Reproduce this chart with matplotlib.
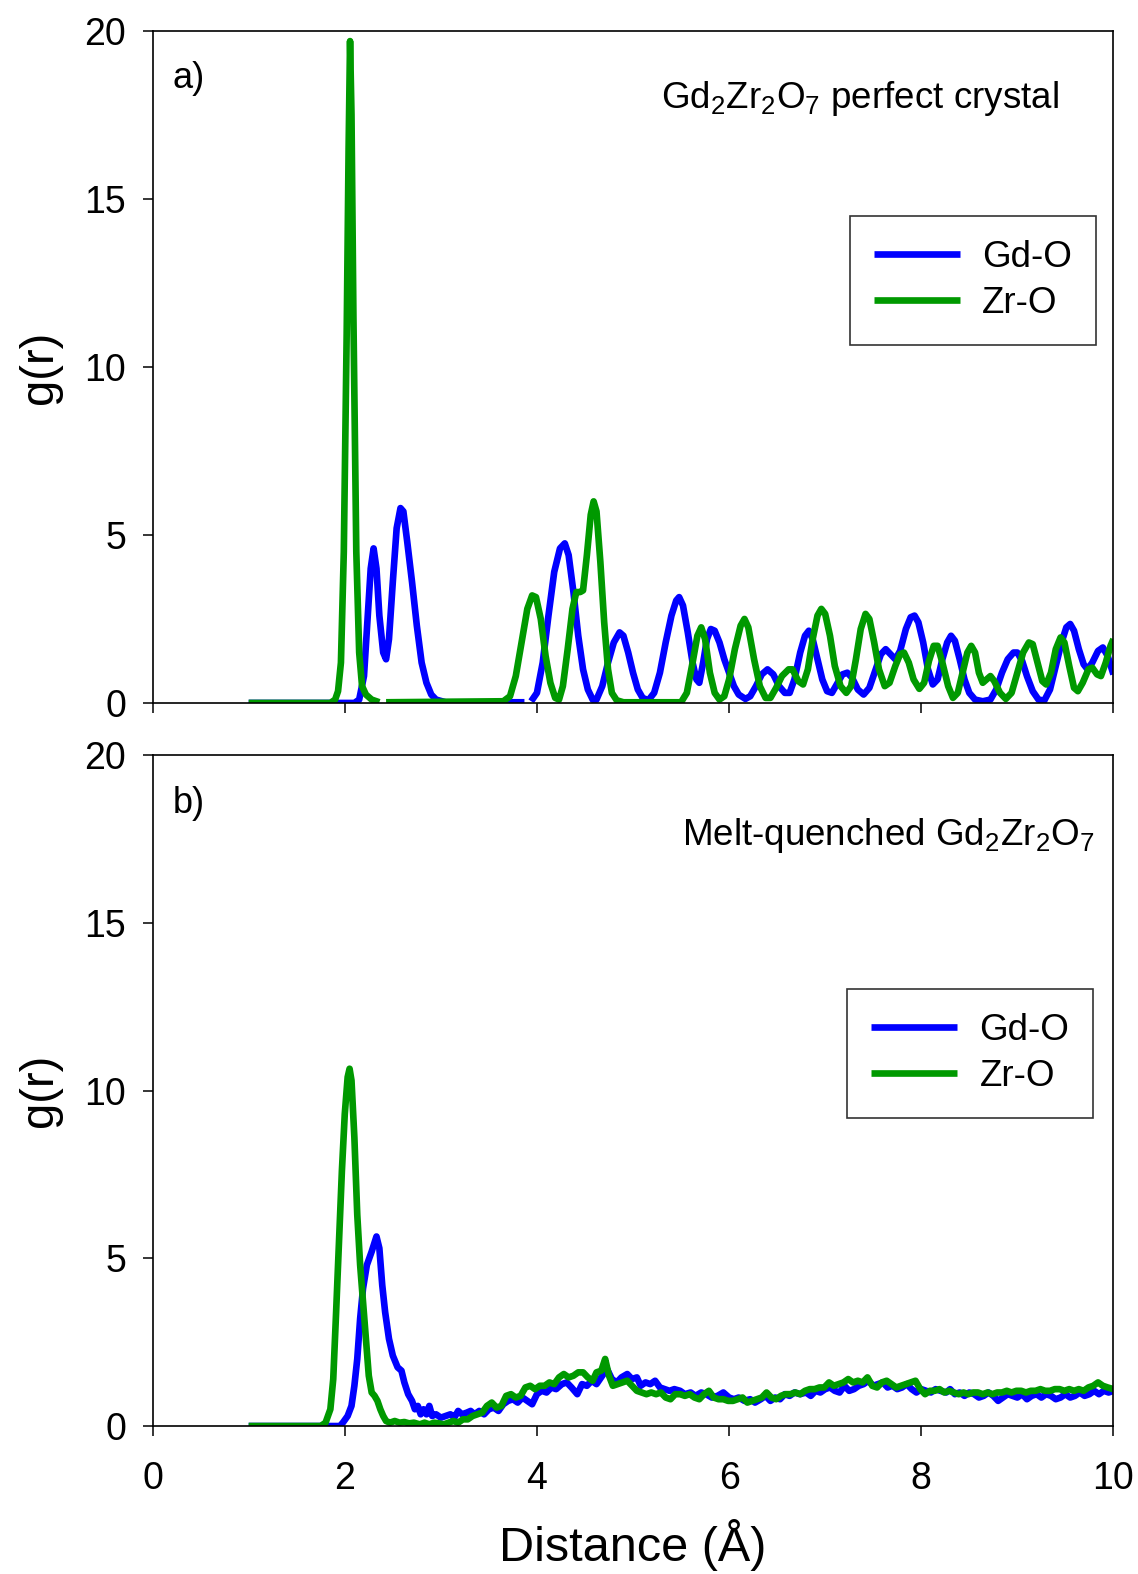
import numpy as np
import matplotlib
matplotlib.use('Agg')
import matplotlib.pyplot as plt

plt.rcParams['font.family'] = ['Liberation Sans', 'DejaVu Sans']
plt.rcParams['mathtext.fontset'] = 'custom'
plt.rcParams['mathtext.rm'] = 'Liberation Sans'
plt.rcParams['mathtext.it'] = 'Liberation Sans'
plt.rcParams['mathtext.bf'] = 'Liberation Sans'

nan = float('nan')

# ---- a) perfect crystal ----
crys_gd_r = [1.00, 2.10, 2.15, 2.20, 2.24, 2.27, 2.30, 2.33, 2.36, 2.40, 2.43, 2.46, 2.50, 2.54, 2.58, 2.61,
             2.65, 2.70, 2.75, 2.80, 2.85, 2.90, 2.95, 3.05, 3.87, 3.90, 3.94, 4.00, 4.06, 4.12, 4.18, 4.24,
             4.29, 4.33, 4.38, 4.43, 4.48, 4.53, 4.58, 4.62, 4.68, 4.74, 4.80, 4.86, 4.90, 4.95, 5.00, 5.05,
             5.10, 5.16, 5.22, 5.28, 5.34, 5.40, 5.45, 5.48, 5.52, 5.57, 5.62, 5.66, 5.69, 5.73, 5.77, 5.81,
             5.85, 5.90, 5.95, 6.00, 6.05, 6.10, 6.17, 6.22, 6.28, 6.34, 6.40, 6.46, 6.52, 6.58, 6.63, 6.68,
             6.74, 6.79, 6.83, 6.87, 6.92, 6.97, 7.02, 7.07, 7.12, 7.18, 7.23, 7.28, 7.34, 7.40, 7.46, 7.52,
             7.58, 7.63, 7.68, 7.73, 7.78, 7.84, 7.89, 7.93, 7.97, 8.02, 8.07, 8.12, 8.17, 8.22, 8.27, 8.31,
             8.35, 8.40, 8.45, 8.50, 8.56, 8.64, 8.72, 8.78, 8.84, 8.90, 8.96, 9.00, 9.05, 9.10, 9.16, 9.22,
             9.28, 9.34, 9.40, 9.46, 9.51, 9.55, 9.59, 9.64, 9.69, 9.73, 9.78, 9.84, 9.89, 9.94, 10.00]
crys_gd_g = [0.0, 0.0, 0.1, 0.8, 2.6, 4.0, 4.6, 4.0, 2.6, 1.5, 1.3, 1.9, 3.6, 5.2, 5.8, 5.7,
             4.8, 3.6, 2.3, 1.2, 0.6, 0.25, 0.1, 0.02, 0.02, nan, 0.05, 0.3, 1.2, 2.6, 3.9, 4.6,
             4.75, 4.4, 3.3, 2.0, 1.0, 0.4, 0.1, 0.1, 0.5, 1.2, 1.8, 2.1, 2.0, 1.5, 0.9, 0.4,
             0.15, 0.08, 0.3, 0.9, 1.8, 2.6, 3.05, 3.15, 2.9, 2.1, 1.2, 0.7, 0.6, 1.2, 1.9, 2.2,
             2.15, 1.8, 1.3, 0.9, 0.5, 0.25, 0.12, 0.2, 0.5, 0.85, 1.0, 0.85, 0.5, 0.3, 0.3, 0.7,
             1.5, 2.0, 2.15, 1.9, 1.3, 0.7, 0.35, 0.3, 0.55, 0.85, 0.9, 0.75, 0.4, 0.25, 0.45, 0.95,
             1.45, 1.6, 1.45, 1.3, 1.55, 2.2, 2.55, 2.6, 2.4, 1.8, 1.0, 0.55, 0.7, 1.3, 1.8, 2.0,
             1.85, 1.3, 0.7, 0.3, 0.1, 0.05, 0.1, 0.4, 0.9, 1.3, 1.5, 1.5, 1.25, 0.8, 0.35, 0.1,
             0.07, 0.4, 1.1, 1.8, 2.25, 2.35, 2.15, 1.6, 1.15, 1.0, 1.2, 1.55, 1.65, 1.4, 0.85]

crys_zr_r = [1.00, 1.85, 1.90, 1.93, 1.96, 1.99, 2.02, 2.04, 2.055, 2.07, 2.09, 2.12, 2.15, 2.18, 2.22, 2.28,
             2.36, 2.40, 2.43, 3.65, 3.72, 3.78, 3.84, 3.90, 3.95, 3.99, 4.04, 4.09, 4.14, 4.19, 4.23, 4.27,
             4.32, 4.37, 4.41, 4.45, 4.48, 4.52, 4.56, 4.59, 4.62, 4.66, 4.70, 4.74, 4.78, 4.83, 4.90, 5.50,
             5.56, 5.62, 5.67, 5.71, 5.75, 5.80, 5.85, 5.90, 5.95, 6.00, 6.06, 6.12, 6.16, 6.20, 6.26, 6.32,
             6.38, 6.43, 6.49, 6.55, 6.62, 6.66, 6.72, 6.77, 6.82, 6.87, 6.92, 6.96, 7.00, 7.05, 7.10, 7.16,
             7.22, 7.27, 7.32, 7.37, 7.42, 7.46, 7.51, 7.56, 7.62, 7.67, 7.73, 7.78, 7.82, 7.87, 7.92, 7.98,
             8.03, 8.08, 8.13, 8.17, 8.22, 8.28, 8.33, 8.38, 8.43, 8.48, 8.52, 8.56, 8.60, 8.64, 8.68, 8.72,
             8.76, 8.82, 8.88, 8.94, 9.00, 9.06, 9.12, 9.16, 9.21, 9.26, 9.30, 9.35, 9.40, 9.45, 9.49, 9.54,
             9.59, 9.63, 9.68, 9.74, 9.78, 9.83, 9.87, 9.92, 9.97, 10.00]
crys_zr_g = [0.0, 0.0, 0.1, 0.35, 1.2, 4.5, 11.0, 16.5, 19.7, 17.5, 11.5, 4.5, 1.5, 0.5, 0.25, 0.1,
             0.02, nan, 0.02, 0.05, 0.2, 0.8, 1.8, 2.8, 3.2, 3.15, 2.5, 1.4, 0.6, 0.15, 0.1, 0.5,
             1.6, 2.8, 3.3, 3.3, 3.35, 4.4, 5.6, 6.0, 5.7, 4.2, 2.4, 1.0, 0.3, 0.08, 0.02, 0.02,
             0.3, 1.2, 2.0, 2.25, 1.9, 0.9, 0.3, 0.1, 0.2, 0.7, 1.6, 2.3, 2.5, 2.25, 1.3, 0.5,
             0.15, 0.15, 0.45, 0.8, 1.0, 1.0, 0.65, 0.55, 1.0, 1.9, 2.6, 2.8, 2.65, 2.0, 1.1, 0.5,
             0.3, 0.5, 1.3, 2.2, 2.65, 2.5, 1.8, 1.0, 0.5, 0.6, 1.1, 1.45, 1.5, 1.2, 0.7, 0.42,
             0.6, 1.25, 1.7, 1.7, 1.2, 0.5, 0.15, 0.3, 0.9, 1.5, 1.7, 1.5, 0.9, 0.6, 0.7, 0.8,
             0.65, 0.3, 0.12, 0.3, 0.9, 1.5, 1.8, 1.75, 1.2, 0.65, 0.55, 0.9, 1.6, 1.95, 1.8, 1.1,
             0.45, 0.35, 0.6, 1.0, 1.05, 0.85, 0.8, 1.2, 1.7, 1.9]

# ---- b) melt-quenched ----
melt_gd_r = [1.00, 1.95, 1.98, 2.03, 2.07, 2.10, 2.13, 2.16, 2.19, 2.23, 2.28, 2.33, 2.36, 2.39, 2.42, 2.46,
             2.50, 2.55, 2.59, 2.62, 2.66, 2.70, 2.73, 2.76, 2.79, 2.82, 2.85, 2.88, 2.91, 2.95, 3.00, 3.05,
             3.10, 3.14, 3.18, 3.22, 3.27, 3.31, 3.35, 3.40, 3.45, 3.50, 3.55, 3.60, 3.65, 3.70, 3.75, 3.80,
             3.85, 3.90, 3.95, 4.00, 4.05, 4.10, 4.15, 4.20, 4.26, 4.31, 4.36, 4.42, 4.47, 4.52, 4.57, 4.62,
             4.68, 4.73, 4.78, 4.83, 4.88, 4.94, 4.99, 5.04, 5.08, 5.13, 5.18, 5.23, 5.28, 5.33, 5.38, 5.43,
             5.49, 5.54, 5.60, 5.65, 5.71, 5.76, 5.82, 5.88, 5.94, 6.00, 6.05, 6.10, 6.16, 6.22, 6.27, 6.33,
             6.38, 6.43, 6.48, 6.53, 6.58, 6.63, 6.68, 6.74, 6.80, 6.85, 6.90, 6.95, 7.00, 7.05, 7.10, 7.15,
             7.20, 7.25, 7.30, 7.35, 7.40, 7.45, 7.50, 7.55, 7.60, 7.65, 7.70, 7.75, 7.80, 7.85, 7.90, 7.95,
             8.00, 8.05, 8.10, 8.15, 8.20, 8.26, 8.30, 8.35, 8.40, 8.45, 8.50, 8.55, 8.60, 8.65, 8.70, 8.75,
             8.80, 8.85, 8.90, 8.95, 9.00, 9.05, 9.10, 9.15, 9.20, 9.25, 9.30, 9.35, 9.40, 9.45, 9.50, 9.55,
             9.60, 9.65, 9.70, 9.75, 9.80, 9.85, 9.90, 9.95, 10.00]
melt_gd_g = [0.0, 0.0, 0.1, 0.3, 0.6, 1.2, 2.0, 3.2, 4.1, 4.8, 5.2, 5.65, 5.3, 4.2, 3.4, 2.6,
             2.1, 1.75, 1.65, 1.3, 0.95, 0.75, 0.5, 0.6, 0.35, 0.5, 0.35, 0.6, 0.3, 0.35, 0.25, 0.3,
             0.35, 0.25, 0.45, 0.35, 0.4, 0.45, 0.35, 0.45, 0.35, 0.5, 0.55, 0.45, 0.65, 0.75, 0.8, 0.7,
             0.85, 0.75, 0.65, 0.95, 1.05, 1.0, 1.15, 1.1, 1.25, 1.3, 1.15, 0.95, 1.25, 1.2, 1.35, 1.25,
             1.5, 1.7, 1.4, 1.3, 1.45, 1.55, 1.4, 1.45, 1.2, 1.3, 1.25, 1.35, 1.15, 1.1, 1.05, 1.1,
             1.05, 0.95, 1.0, 0.9, 1.0, 0.95, 0.85, 0.9, 1.0, 0.85, 0.8, 0.85, 0.75, 0.8, 0.7, 0.8,
             0.9, 0.75, 0.85, 0.8, 0.95, 0.9, 1.0, 0.95, 1.0, 0.9, 1.05, 1.0, 1.1, 1.15, 1.05, 1.0,
             1.2, 1.05, 1.1, 1.2, 1.25, 1.35, 1.2, 1.25, 1.3, 1.15, 1.2, 1.1, 1.15, 1.25, 1.1, 1.0,
             1.1, 1.05, 1.0, 1.1, 1.05, 1.0, 1.1, 0.95, 1.0, 0.9, 1.0, 0.95, 0.85, 0.9, 1.0, 0.9,
             0.75, 0.85, 0.95, 0.9, 0.85, 0.95, 0.8, 0.9, 0.95, 0.85, 0.95, 0.9, 0.8, 0.85, 0.95, 0.85,
             0.9, 1.0, 0.9, 0.95, 1.05, 0.95, 1.05, 1.0, 1.05]

melt_zr_r = [1.00, 1.75, 1.80, 1.85, 1.88, 1.91, 1.94, 1.97, 2.00, 2.03, 2.05, 2.07, 2.10, 2.13, 2.16, 2.19,
             2.22, 2.25, 2.28, 2.31, 2.34, 2.37, 2.40, 2.43, 2.47, 2.52, 2.57, 2.62, 2.67, 2.72, 2.78, 2.83,
             2.88, 2.93, 2.98, 3.03, 3.08, 3.13, 3.18, 3.23, 3.28, 3.33, 3.38, 3.43, 3.48, 3.53, 3.58, 3.63,
             3.68, 3.73, 3.78, 3.83, 3.88, 3.93, 3.98, 4.03, 4.08, 4.13, 4.18, 4.23, 4.28, 4.33, 4.38, 4.43,
             4.48, 4.53, 4.58, 4.62, 4.67, 4.71, 4.75, 4.79, 4.84, 4.89, 4.94, 4.99, 5.04, 5.09, 5.14, 5.19,
             5.24, 5.29, 5.34, 5.39, 5.44, 5.49, 5.54, 5.59, 5.64, 5.69, 5.74, 5.79, 5.84, 5.89, 5.94, 5.99,
             6.04, 6.09, 6.14, 6.19, 6.24, 6.29, 6.34, 6.39, 6.44, 6.49, 6.54, 6.59, 6.64, 6.69, 6.74, 6.79,
             6.84, 6.89, 6.94, 6.99, 7.04, 7.09, 7.14, 7.19, 7.24, 7.29, 7.34, 7.39, 7.44, 7.49, 7.54, 7.59,
             7.64, 7.69, 7.74, 7.79, 7.84, 7.89, 7.94, 7.99, 8.04, 8.09, 8.14, 8.19, 8.24, 8.29, 8.34, 8.39,
             8.44, 8.49, 8.54, 8.59, 8.64, 8.69, 8.74, 8.79, 8.84, 8.89, 8.94, 8.99, 9.04, 9.09, 9.14, 9.19,
             9.24, 9.29, 9.34, 9.39, 9.44, 9.49, 9.54, 9.59, 9.64, 9.69, 9.74, 9.79, 9.84, 9.89, 9.94, 10.00]
melt_zr_g = [0.0, 0.0, 0.1, 0.5, 1.4, 3.4, 5.5, 7.6, 9.3, 10.4, 10.65, 10.3, 8.6, 6.3, 4.8, 3.7,
             2.6, 1.5, 1.0, 0.9, 0.75, 0.5, 0.3, 0.15, 0.1, 0.15, 0.1, 0.12, 0.08, 0.1, 0.05, 0.1,
             0.05, 0.1, 0.08, 0.05, 0.1, 0.15, 0.1, 0.2, 0.2, 0.3, 0.35, 0.4, 0.6, 0.7, 0.55, 0.6,
             0.9, 0.95, 0.85, 0.9, 1.15, 1.2, 1.1, 1.2, 1.2, 1.3, 1.25, 1.45, 1.55, 1.45, 1.5, 1.6,
             1.6, 1.45, 1.35, 1.6, 1.65, 2.0, 1.5, 1.2, 1.25, 1.3, 1.35, 1.2, 1.05, 1.0, 0.95, 1.0,
             0.95, 1.0, 0.85, 0.8, 0.95, 0.95, 0.9, 0.95, 0.85, 0.8, 0.95, 1.05, 0.85, 0.8, 0.8, 0.75,
             0.75, 0.8, 0.85, 0.7, 0.75, 0.8, 0.85, 1.0, 0.85, 0.8, 0.9, 0.95, 0.95, 1.0, 0.95, 1.05,
             1.1, 1.1, 1.15, 1.15, 1.3, 1.2, 1.25, 1.3, 1.4, 1.3, 1.35, 1.3, 1.45, 1.2, 1.15, 1.3,
             1.35, 1.25, 1.15, 1.2, 1.25, 1.3, 1.35, 1.1, 0.95, 1.05, 1.05, 1.1, 1.0, 1.05, 1.0, 0.95,
             1.0, 0.95, 1.0, 1.0, 0.95, 1.0, 0.95, 1.0, 1.0, 1.05, 1.0, 1.05, 1.05, 1.0, 1.05, 1.05,
             1.1, 1.05, 1.05, 1.1, 1.1, 1.05, 1.1, 1.05, 1.1, 1.05, 1.15, 1.2, 1.3, 1.2, 1.15, 1.1]

panels = [
    ('a)', r'Gd$_2$Zr$_2$O$_7$ perfect crystal', crys_gd_r, crys_gd_g, crys_zr_r, crys_zr_g),
    ('b)', r'Melt-quenched Gd$_2$Zr$_2$O$_7$', melt_gd_r, melt_gd_g, melt_zr_r, melt_zr_g),
]

blue = '#0000ff'
green = '#009900'

fig = plt.figure(figsize=(11.38, 15.74), dpi=100)
ax_a = fig.add_axes([0.1341, 0.5534, 0.8443, 0.4269])
ax_b = fig.add_axes([0.1341, 0.0940, 0.8443, 0.4263])

# text / legend placement per panel (axes coords)
note_pos = [(0.943, 0.885), (0.980, 0.866)]
leg_pos = [(0.982, 0.725), (0.979, 0.651)]
tag_pos = [(0.021, 0.915), (0.021, 0.913)]

for i, (ax, (tag, note, gr, gg, zr, zg)) in enumerate(zip([ax_a, ax_b], panels)):
    ax.plot(gr, gg, color=blue, lw=4.8, label='Gd-O', solid_joinstyle='round', solid_capstyle='butt')
    ax.plot(zr, zg, color=green, lw=4.8, label='Zr-O', solid_joinstyle='round', solid_capstyle='butt')
    ax.set_xlim(0, 10)
    ax.set_ylim(0, 20)
    ax.set_xticks([0, 2, 4, 6, 8, 10])
    ax.set_yticks([0, 5, 10, 15, 20])
    ax.tick_params(direction='out', length=7, width=1.1, labelsize=27)
    ax.tick_params(axis='y', pad=12)
    ax.tick_params(axis='x', pad=18)
    for s in ax.spines.values():
        s.set_linewidth(1.2)
    ax.set_ylabel('g(r)', fontsize=34, labelpad=16)
    ax.text(tag_pos[i][0], tag_pos[i][1], tag, transform=ax.transAxes, fontsize=26, va='baseline', ha='left')
    ax.text(note_pos[i][0], note_pos[i][1], note, transform=ax.transAxes, fontsize=26.5, va='baseline', ha='right')
    leg = ax.legend(loc='upper right', bbox_to_anchor=leg_pos[i], fontsize=26.5, frameon=True, fancybox=False,
                    edgecolor='black', handlelength=2.35, handletextpad=0.6, labelspacing=0.3,
                    borderpad=0.65, borderaxespad=0)
    leg.get_frame().set_linewidth(1.2)

ax_a.tick_params(axis='x', labelbottom=False)
ax_b.set_xlabel('Distance (Å)', fontsize=35, labelpad=16)

plt.savefig('out.png', dpi=100)
plt.close()
